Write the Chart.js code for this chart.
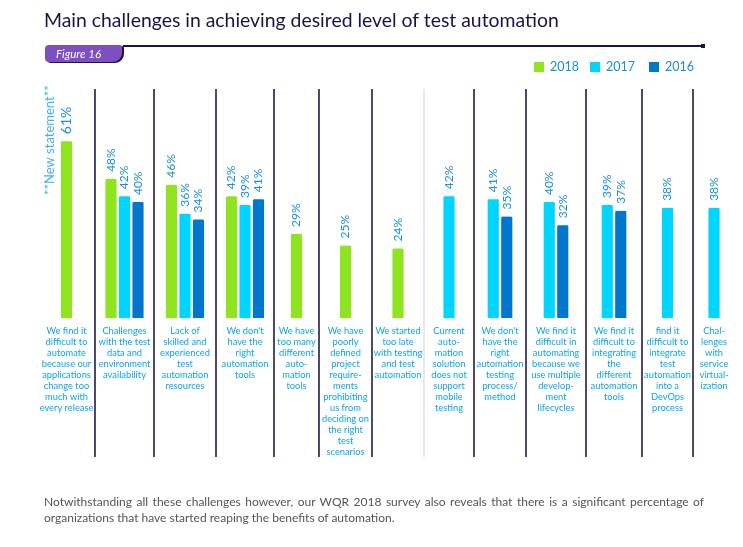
<!DOCTYPE html>
<html>
<head>
<meta charset="utf-8">
<script src="https://cdn.jsdelivr.net/npm/chart.js@4.4.1/dist/chart.umd.min.js"></script>
<style>
  body { margin: 0; background: #fff; font-family: Lato, sans-serif; }
  #page { position: relative; width: 743px; height: 547px; overflow: hidden; }
  #chart { position: absolute; left: 0; top: 0; }
  .title { position: absolute; left: 44px; top: 8px; font-size: 19.4px; color: #1d1445; white-space: nowrap; }
  .tab { position: absolute; left: 45px; top: 45px; width: 77px; height: 17px; background: #7e4fc0;
         border-radius: 4px 2px 9px 4px; box-shadow: 2px 1px 0 #1d1445; color: #fff; font-style: italic;
         font-size: 11.5px; line-height: 17px; text-indent: 11px; }
  .rule { position: absolute; left: 123px; top: 45px; width: 580px; height: 1.5px; background: #1d1445; }
  .rule-end { position: absolute; left: 701px; top: 44px; width: 4px; height: 4px; background: #1d1445; }
  .legend { position: absolute; top: 59px; font-size: 12.5px; color: #1a8fd6; }
  .legend i { position: absolute; left: 0; top: 3px; width: 10px; height: 10px; }
  .legend span { position: absolute; left: 16px; top: 0; white-space: nowrap; }
  .note { position: absolute; left: 44px; top: 494px; width: 660px; font-size: 12px; line-height: 16px; color: #555; }
  .note .l1 { text-align: justify; text-align-last: justify; }
</style>
</head>
<body>
<div id="page">
  <canvas id="chart" width="743" height="547"></canvas>
  <div class="title">Main challenges in achieving desired level of test automation</div>
  <div class="tab">Figure 16</div>
  <div class="rule"></div>
  <div class="rule-end"></div>
  <div id="legend"></div>
  <div class="note">
    <div class="l1">Notwithstanding all these challenges however, our WQR 2018 survey also reveals that there is a significant percentage of</div>
    <div>organizations that have started reaping the benefits of automation.</div>
  </div>
</div>
<script>
// categories, one per column, with the line breaks of the picture
var categories = [
    ["We find it", "difficult to", "automate", "because our", "applications", "change too", "much with", "every release"],
    ["Challenges", "with the test", "data and", "environment", "availability"],
    ["Lack of", "skilled and", "experienced", "test", "automation", "resources"],
    ["We don't", "have the", "right", "automation", "tools"],
    ["We have", "too many", "different", "auto-", "mation", "tools"],
    ["We have", "poorly", "defined", "project", "require-", "ments", "prohibiting", "us from", "deciding on", "the right", "test", "scenarios"],
    ["We started", "too late", "with testing", "and test", "automation"],
    ["Current", "auto-", "mation", "solution", "does not", "support", "mobile", "testing"],
    ["We don't", "have the", "right", "automation", "testing", "process/", "method"],
    ["We find it", "difficult in", "automating", "because we", "use multiple", "develop-", "ment", "lifecycles"],
    ["We find it", "difficult to", "integrating", "the", "different", "automation", "tools"],
    ["find it", "difficult to", "integrate", "test", "automation", "into a", "DevOps", "process"],
    ["Chal-", "lenges", "with", "service", "virtual-", "ization"]
];
var years = ["2018", "2017", "2016"];
var values2018 = [61, 48, 46, 42, 29, 25, 24, null, null, null, null, null, null];
var values2017 = [null, 42, 36, 39, null, null, null, 42, 41, 40, 39, 38, 38];
var values2016 = [null, 40, 34, 41, null, null, null, null, 35, 32, 37, null, null];

var colours = ["#8fe31f", "#00d5ff", "#0077cc"];
// layout only: the columns in the picture are not all equally wide (px)
var columnWidths = [57, 59, 62, 58, 45, 53, 52, 50, 52, 60, 56, 51, 42];
var font = 'Lato, sans-serif';

// html legend, top right
var legendX = [534, 590, 649];
document.getElementById("legend").innerHTML = years.map(function (y, i) {
    return '<div class="legend" style="left:' + legendX[i] + 'px"><i style="background:' + colours[i] + '"></i><span>' + y + '</span></div>';
}).join("");

// spread the category scale over the uneven columns
function unevenColumns(scale) {
    var base = Object.getPrototypeOf(scale).getPixelForDecimal;
    var total = columnWidths.reduce(function (a, b) { return a + b; }, 0);
    scale.getPixelForDecimal = function (d) {
        var n = columnWidths.length;
        var pos = d * n;
        var i = Math.max(0, Math.min(n - 1, Math.floor(pos)));
        var acc = 0;
        for (var k = 0; k < i; k++) acc += columnWidths[k];
        return base.call(this, (acc + (pos - i) * columnWidths[i]) / total);
    };
}

var columnLines = {
    id: "columnLines",
    beforeDatasetsDraw: function (chart) {
        var ctx = chart.ctx, area = chart.chartArea, x = chart.scales.x;
        var n = categories.length;
        ctx.save();
        ctx.lineWidth = 1.5;
        for (var k = 1; k < n; k++) {
            var px = x.getPixelForDecimal(k / n);
            ctx.strokeStyle = k === 7 ? "#e6dcf4" : "#120c3e";
            ctx.beginPath();
            ctx.moveTo(px, area.top);
            ctx.lineTo(px, area.bottom + 139);
            ctx.stroke();
        }
        ctx.translate(x.getPixelForDecimal(0) + 12, area.top + 106);
        ctx.rotate(-Math.PI / 2);
        ctx.fillStyle = "#40b4ea";
        ctx.font = "13px " + font;
        ctx.textBaseline = "middle";
        ctx.fillText("**New statement**", 0, 0);
        ctx.restore();
    }
};

var percentLabels = {
    id: "percentLabels",
    afterDatasetsDraw: function (chart) {
        var ctx = chart.ctx;
        ctx.save();
        ctx.fillStyle = "#1a8fd6";
        ctx.textAlign = "left";
        ctx.textBaseline = "middle";
        chart.data.datasets.forEach(function (ds, d) {
            chart.getDatasetMeta(d).data.forEach(function (bar, i) {
                var v = ds.data[i];
                if (v == null) return;
                ctx.font = (i === 0 ? "14px " : "12px ") + font;
                ctx.save();
                ctx.translate(bar.x, bar.y - 7);
                ctx.rotate(-Math.PI / 2);
                ctx.fillText(v + "%", 0, 0);
                ctx.restore();
            });
        });
        ctx.restore();
    }
};

function barSet(label, data, colour) {
    return {
        label: label,
        data: data,
        backgroundColor: colour,
        borderColor: "#ffffff",
        borderWidth: { left: 1.5, right: 1.5, top: 0, bottom: 0 },
        borderRadius: { topLeft: 3, topRight: 3 },
        borderSkipped: "bottom",
        barThickness: 13.5,
        skipNull: true
    };
}

new Chart(document.getElementById("chart"), {
    type: "bar",
    data: {
        labels: categories,
        datasets: [
            barSet(years[0], values2018, colours[0]),
            barSet(years[1], values2017, colours[1]),
            barSet(years[2], values2016, colours[2])
        ]
    },
    options: {
        responsive: false,
        animation: false,
        layout: { padding: { top: 89, left: 38, right: 8, bottom: 89 } },
        plugins: { legend: { display: false }, tooltip: { enabled: false } },
        scales: {
            x: {
                grid: { display: false, drawTicks: false },
                border: { display: false },
                ticks: {
                    color: "#0aa6e6",
                    font: { family: font, size: 9.3, lineHeight: 1.18 },
                    padding: 8,
                    autoSkip: false,
                    maxRotation: 0,
                    minRotation: 0
                },
                afterBuildTicks: unevenColumns,
                afterFit: function (scale) { scale.height = 140; }
            },
            y: { display: false, min: 0, max: 79 }
        }
    },
    plugins: [columnLines, percentLabels]
});
</script>
</body>
</html>
